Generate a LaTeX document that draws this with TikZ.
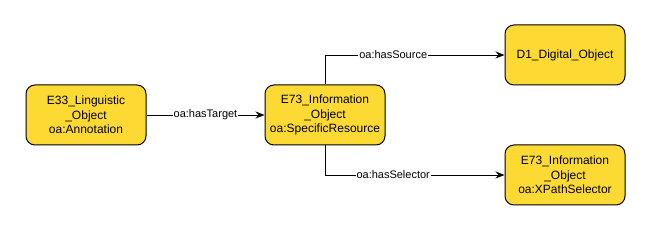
\documentclass[tikz,border=0pt]{standalone}
\usepackage{fontspec}
\setmainfont{Liberation Sans}
\usetikzlibrary{arrows.meta}
\definecolor{boxyellow}{HTML}{FDDA33}
\tikzset{
  entity/.style={draw=black, fill=boxyellow, line width=1pt, rounded corners=9pt,
    minimum width=120pt, minimum height=60pt, align=center,
    font=\fontsize{12}{14.5}\selectfont},
  link/.style={-{Stealth[length=9pt,width=7pt]}, line width=0.9pt},
  linklabel/.style={fill=white, inner sep=1pt, font=\fontsize{11}{13}\selectfont}
}
\begin{document}
\begin{tikzpicture}[x=1pt, y=-1pt]
    \useasboundingbox (0,0) rectangle (651,232);

      % classes
      \node[entity] (annot) at (86,115) {E33\_Linguistic\\\_Object\\oa:Annotation};
      \node[entity] (specres) at (325,115) {E73\_Information\\\_Object\\oa:SpecificResource};
      \node[entity] (digobj) at (565,55) {D1\_Digital\_Object};
      \node[entity] (xpath) at (565,175) {E73\_Information\\\_Object\\oa:XPathSelector};

      % properties
      \draw[link] (annot) -- node[linklabel]{oa:hasTarget} (specres);
      \draw[link] (specres.north) |- node[linklabel, pos=0.69]{oa:hasSource} (digobj);
      \draw[link] (specres.south) |- node[linklabel, pos=0.69]{oa:hasSelector} (xpath);

\end{tikzpicture}
\end{document}
